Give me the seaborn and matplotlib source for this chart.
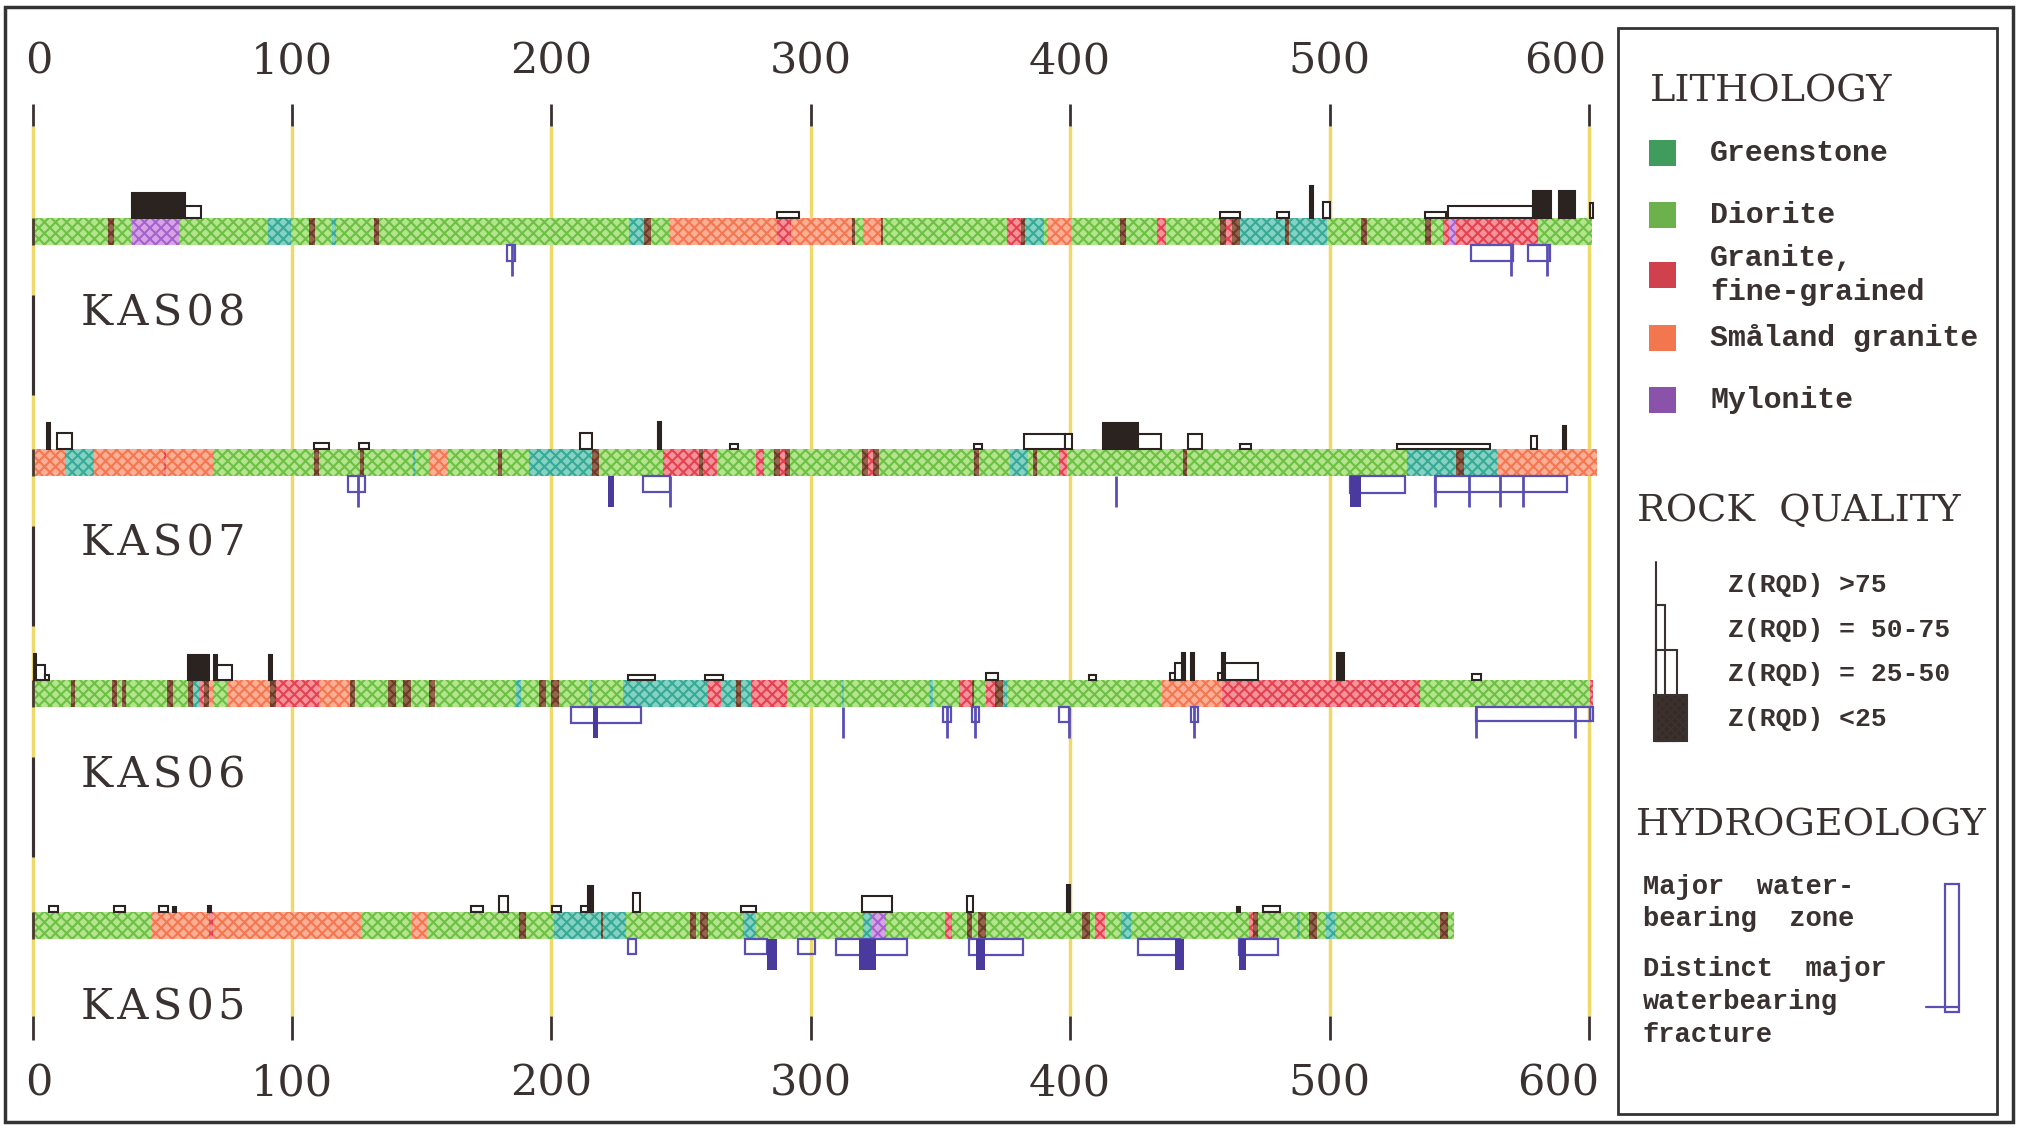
import matplotlib
matplotlib.use("Agg")
import matplotlib.pyplot as plt
from matplotlib.patches import Rectangle
import seaborn as sns

# borehole names and depth scale (m)
holes = ["KAS08", "KAS07", "KAS06", "KAS05"]
depth_ticks = [0, 100, 200, 300, 400, 500, 600]

# lithology: (from m, to m, rock)
# D diorite, G greenstone, F fine-grained granite, S Smaland granite, M mylonite, X thin dark band
kas08_litho = [
    (0, 29, "D"), (29, 31.5, "X"), (31.5, 38.5, "D"), (38.5, 56.6, "M"), (56.6, 90.7, "D"),
    (90.7, 99.6, "G"), (99.6, 106.5, "D"), (106.5, 109, "X"), (109, 115.5, "D"), (115.5, 117, "G"),
    (117, 131.5, "D"), (131.5, 133.5, "X"), (133.5, 229.8, "D"), (229.8, 235.7, "G"), (235.7, 238.6, "X"),
    (238.6, 245.2, "D"), (245.2, 287, "S"), (287, 292.5, "F"), (292.5, 316, "S"), (316, 317, "X"),
    (317, 320, "D"), (320, 327, "S"), (327, 328, "X"), (328, 375.5, "D"), (375.5, 381, "F"),
    (381, 382.5, "X"), (382.5, 390, "G"), (390, 391.4, "D"), (391.4, 400.7, "S"), (400.7, 419.2, "D"),
    (419.2, 421.6, "X"), (421.6, 433.5, "D"), (433.5, 437, "F"), (437, 457.8, "D"), (457.8, 460, "X"),
    (460, 462.5, "F"), (462.5, 465.3, "X"), (465.3, 483, "G"), (483, 484.5, "X"), (484.5, 499, "G"),
    (499, 512, "D"), (512, 514.6, "X"), (514.6, 536.8, "D"), (536.8, 539.2, "X"), (539.2, 543.8, "D"),
    (543.8, 546, "F"), (546, 548.8, "M"), (548.8, 580.2, "F"), (580.2, 601, "D"),
]
kas07_litho = [
    (0, 12.4, "S"), (12.4, 23.7, "G"), (23.7, 50.5, "S"), (50.5, 51.5, "F"), (51.5, 70, "S"),
    (70, 108.5, "D"), (108.5, 110.5, "X"), (110.5, 126.2, "D"), (126.2, 127.6, "X"), (127.6, 146.5, "D"),
    (146.5, 147.5, "G"), (147.5, 152.9, "D"), (152.9, 159.8, "S"), (159.8, 179.5, "D"), (179.5, 181, "X"),
    (181, 191.3, "D"), (191.3, 215.6, "G"), (215.6, 218.3, "X"), (218.3, 243.2, "D"), (243.2, 257, "F"),
    (257, 258.4, "X"), (258.4, 263.7, "F"), (263.7, 279, "D"), (279, 282, "F"), (282, 286, "D"),
    (286, 288, "X"), (288, 290, "F"), (290, 292, "X"), (292, 319.9, "D"), (319.9, 322, "X"),
    (322, 324, "F"), (324, 326.2, "X"), (326.2, 363, "D"), (363, 365, "X"), (365, 376.9, "D"),
    (376.9, 383.8, "G"), (383.8, 385.8, "D"), (385.8, 387.4, "X"), (387.4, 395.8, "D"), (395.8, 398.7, "F"),
    (398.7, 443.5, "D"), (443.5, 445, "X"), (445, 530, "D"), (530, 548.8, "G"), (548.8, 551.7, "X"),
    (551.7, 564.7, "G"), (564.7, 603, "S"),
]
kas06_litho = [
    (0, 14.8, "D"), (14.8, 16.4, "X"), (16.4, 30.6, "D"), (30.6, 32.5, "X"), (32.5, 34.5, "D"),
    (34.5, 36, "X"), (36, 52, "D"), (52, 54, "X"), (54, 60, "D"), (60, 62, "X"), (62, 64, "G"),
    (64, 66, "F"), (66, 68, "X"), (68, 70, "S"), (70, 75, "D"), (75, 91.7, "S"), (91.7, 93.7, "X"),
    (93.7, 110.5, "F"), (110.5, 122.3, "S"), (122.3, 124.3, "X"), (124.3, 137, "D"), (137, 140, "X"),
    (140, 143, "D"), (143, 146, "X"), (146, 153, "D"), (153, 155, "X"), (155, 186.4, "D"),
    (186.4, 188.4, "G"), (188.4, 195.3, "D"), (195.3, 198, "X"), (198, 200, "D"), (200, 203, "X"),
    (203, 214.5, "D"), (214.5, 215.5, "G"), (215.5, 227.8, "D"), (227.8, 260.4, "G"), (260.4, 265.3, "F"),
    (265.3, 271, "G"), (271, 273, "X"), (273, 277, "G"), (277, 291, "F"), (291, 312, "D"),
    (312, 313, "G"), (313, 346, "D"), (346, 347, "G"), (347, 357, "D"), (357, 362, "F"),
    (362, 363, "X"), (363, 367.6, "D"), (367.6, 371, "F"), (371, 374, "X"), (374, 375.5, "G"),
    (375.5, 435.5, "D"), (435.5, 458.4, "S"), (458.4, 534.8, "F"), (534.8, 600.4, "D"), (600.4, 601.5, "F"),
]
kas05_litho = [
    (0, 46, "D"), (46, 68, "S"), (68, 69.6, "F"), (69.6, 127.2, "S"), (127.2, 146, "D"),
    (146, 152.5, "S"), (152.5, 187.4, "D"), (187.4, 190.3, "X"), (190.3, 201, "D"), (201, 219, "G"),
    (219, 219.8, "X"), (219.8, 228.8, "G"), (228.8, 253.4, "D"), (253.4, 255.8, "X"), (255.8, 257.4, "D"),
    (257.4, 260.4, "X"), (260.4, 274, "D"), (274, 279, "G"), (279, 320.3, "D"), (320.3, 323.8, "G"),
    (323.8, 329.2, "M"), (329.2, 351.7, "D"), (351.7, 354.4, "F"), (354.4, 360.4, "D"), (360.4, 362, "X"),
    (362, 364.5, "D"), (364.5, 367.6, "X"), (367.6, 404.7, "D"), (404.7, 407.7, "X"), (407.7, 409.7, "D"),
    (409.7, 413.3, "F"), (413.3, 419.6, "D"), (419.6, 423.6, "G"), (423.6, 468.9, "D"), (468.9, 470.5, "F"),
    (470.5, 472.3, "X"), (472.3, 487.5, "D"), (487.5, 488.5, "G"), (488.5, 492, "D"), (492, 495, "X"),
    (495, 498.7, "D"), (498.7, 502, "G"), (502, 542.4, "D"), (542.4, 545.8, "X"), (545.8, 548, "D"),
]

# rock quality marks above the core: (from, to, bar height, filled = Z(RQD)<25 or thin >75 line)
kas08_rqd = [
    (38.5, 58.6, 25, True), (58.6, 65, 12, False), (287, 295.3, 6, False), (457.8, 465.3, 6, False),
    (479.6, 484.2, 6, False), (492.5, 493.7, 32, True), (497.5, 500, 16, False), (536.8, 544.8, 6, False),
    (545.8, 578.5, 12, False), (578.6, 585.5, 27, True), (588.5, 594.5, 27, True), (600.5, 601.5, 15, False),
]
kas07_rqd = [
    (5.5, 6.7, 26, True), (9.3, 15.2, 16, False), (108.5, 114.4, 6, False), (126, 129.6, 6, False),
    (211, 215.6, 16, False), (241, 242.2, 27, True), (269, 272, 5, False), (363, 366, 5, False),
    (382.3, 398, 15, False), (398, 400.7, 15, False), (412.6, 426, 26, True), (426, 435, 15, False),
    (445.4, 451, 15, False), (465.3, 469.7, 5, False), (526, 561.7, 5, False), (577.6, 580, 13, False),
    (590, 591.2, 23, True),
]
kas06_rqd = [
    (0.5, 1.5, 26, True), (1.5, 5, 15, False), (5, 6.5, 5, False), (60, 68, 25, True), (70, 71, 25, True),
    (71, 77, 15, False), (91.2, 92.4, 25, True), (229.4, 240, 5, False), (259.4, 266.3, 5, False),
    (367.6, 372, 7, False), (407.3, 410, 5, False), (438.5, 440.5, 7, False), (440.5, 443.5, 17, False),
    (443, 444.2, 27, True), (446.4, 447.8, 27, True), (457, 458.4, 7, False), (458.4, 459.6, 27, True),
    (459.6, 472.3, 17, False), (503, 505.4, 27, True), (555, 558.3, 6, False),
]
kas05_rqd = [
    (6.5, 9.9, 6, False), (31.6, 35.5, 6, False), (48.7, 52.3, 6, False), (54.2, 55.2, 5, True),
    (67.7, 69, 6, True), (169, 173.6, 6, False), (180, 183.4, 16, False), (200.2, 203.7, 6, False),
    (211.6, 214, 6, False), (214, 216, 26, True), (231.4, 234, 19, False), (273, 279, 6, False),
    (319.9, 331.2, 16, False), (360.4, 362.4, 16, False), (398.8, 400, 27, True), (464.3, 465.3, 5, True),
    (474.2, 480.8, 6, False),
]

# major water-bearing zones below the core: (from, to, box height)
kas08_zones = [(182.8, 186, 16), (554.7, 570.6, 16), (576.6, 585, 16)]
kas07_zones = [(121.7, 128.2, 16), (235.3, 245.6, 16), (508, 529, 17), (540.8, 591.5, 16)]
kas06_zones = [(207.7, 234.7, 16), (351, 354, 15), (362, 365, 15), (395.8, 399.4, 15),
               (446.4, 449.4, 15), (556.3, 600.4, 14), (600.4, 601.5, 14)]
kas05_zones = [(229.4, 232.7, 15), (274.8, 283, 15), (295, 301.8, 15), (309.9, 337.2, 16),
               (361, 381.8, 16), (426, 442.5, 16), (465, 480.2, 16)]

# distinct water-bearing fractures: (depth, width m; 0 = single fracture line)
kas08_frac = [(185, 0), (570, 0), (584, 0)]
kas07_frac = [(125.6, 0), (222, 2), (245.6, 0), (417.6, 0), (508, 4), (540.8, 0), (553.7, 0),
              (565.7, 0), (574.6, 0)]
kas06_frac = [(216, 2), (312.3, 0), (352.5, 0), (363.5, 0), (399.4, 0), (447.9, 0), (556.3, 0), (594.5, 0)]
kas05_frac = [(283, 4), (318.7, 6.5), (363.6, 3.4), (440.5, 3.3), (465, 2.7)]

litho = [kas08_litho, kas07_litho, kas06_litho, kas05_litho]
rqd = [kas08_rqd, kas07_rqd, kas06_rqd, kas05_rqd]
zones = [kas08_zones, kas07_zones, kas06_zones, kas05_zones]
fracs = [kas08_frac, kas07_frac, kas06_frac, kas05_frac]

rock_fill = {"D": "#b4e48e", "G": "#86d2c2", "F": "#f4939c", "S": "#fbaf95", "M": "#d6a4e6", "X": "#94654c"}
rock_hatch = {"D": "#6cc043", "G": "#36aa96", "F": "#e4424f", "S": "#f47752", "M": "#a562cc", "X": "#6b3b28"}

legend_rocks = ["Greenstone", "Diorite", "Granite,\nfine-grained", "Småland granite", "Mylonite"]
legend_colors = ["#3f9c5c", "#6cb24c", "#d1404d", "#f2774f", "#8b52a9"]
rqd_labels = ["Z(RQD) >75", "Z(RQD) = 50-75", "Z(RQD) = 25-50", "Z(RQD) <25"]

sns.set_theme(style="white")
plt.rcParams["hatch.linewidth"] = 1.5

ink = "#3a3230"
yellow = "#efd96a"
water = "#5a4fb5"

fig = plt.figure(figsize=(20.17, 11.28), dpi=100)
px_per_m = (1589 - 32.5) / 600
ax = fig.add_axes([0, 0, 1, 1])
ax.set_xlim(-32.5 / px_per_m, (2017 - 32.5) / px_per_m)
ax.set_ylim(1128, 0)
ax.axis("off")

serif = "DejaVu Serif"
mono = "Liberation Mono"

# depth grid
ax.vlines(depth_ticks, 126, 1016, color=yellow, lw=2.5, zorder=1)
ax.vlines(depth_ticks, 104, 126, color=ink, lw=2, zorder=2)
ax.vlines(depth_ticks, 1016, 1040, color=ink, lw=2, zorder=2)
for d in depth_ticks:
    shift = 2.5 if d == 0 else (-9 if d == 600 else 0)
    ax.text(d + shift, 62, str(d), ha="center", va="center", fontsize=31, family=serif, color=ink)
    shift = 2.5 if d == 0 else (-12 if d == 600 else 0)
    ax.text(d + shift, 1083, str(d), ha="center", va="center", fontsize=31, family=serif, color=ink)

strip_top = [218, 449, 680, 912]
strip_h = 27
for i, name in enumerate(holes):
    top = strip_top[i]
    bot = top + strip_h
    for a, b, r in litho[i]:
        ax.bar(a, strip_h, width=b - a, bottom=top, align="edge", color=rock_fill[r],
               edgecolor=rock_hatch[r], hatch="xxx", linewidth=0, zorder=3)
    ax.vlines([0], top, bot, color="#4a3a30", lw=2, zorder=4)
    for a, b, h, filled in rqd[i]:
        ax.bar(a, h, width=b - a, bottom=top - h, align="edge",
               facecolor="#2b2320" if filled else "white", edgecolor="#2b2320",
               linewidth=1.5, zorder=4)
    for a, b, h in zones[i]:
        ax.bar(a, h, width=b - a, bottom=bot, align="edge", facecolor="none",
               edgecolor=water, linewidth=1.6, zorder=4)
    for d, w in fracs[i]:
        if w == 0:
            ax.vlines(d, bot, bot + 31, color=water, lw=2, zorder=5)
        else:
            ax.bar(d, 31, width=w, bottom=bot, align="edge", color="#4a3a9e", linewidth=0, zorder=5)
    ax.text(18.7, top + 95, "\u200a".join(name), ha="left", va="center", fontsize=31,
            family=serif, color=ink)
    if i < 3:
        ax.vlines([0], bot + 50, bot + 150, color=ink, lw=2.2, zorder=2)

# frame and legend panel, in pixel units
lg = fig.add_axes([0, 0, 1, 1])
lg.set_xlim(0, 2017)
lg.set_ylim(1128, 0)
lg.axis("off")
lg.patch.set_alpha(0)
lg.add_patch(Rectangle((5, 7), 2008, 1115, fill=False, ec="#333", lw=2.5))
lg.add_patch(Rectangle((1618, 28), 379, 1086, fill=False, ec="#333", lw=2))

lg.text(1650, 91, "LITHOLOGY", fontsize=27.5, family=serif, color=ink, va="center")
item_y = [153, 215, 275, 338, 400]
for y, lab, c in zip(item_y, legend_rocks, legend_colors):
    lg.add_patch(Rectangle((1649, y - 13), 27, 26, color=c, lw=0))
    lg.text(1710, y, lab, fontsize=21.5, family=mono, weight="bold", color=ink, va="center",
            linespacing=1.3)

lg.text(1637, 511, "ROCK  QUALITY", fontsize=27.5, family=serif, color=ink, va="center")
lg.plot([1656, 1656], [562, 741], color=ink, lw=1.5)
lg.add_patch(Rectangle((1656, 605), 9, 136, fill=False, ec=ink, lw=1.5))
lg.add_patch(Rectangle((1656, 650), 21, 91, fill=False, ec=ink, lw=1.5))
lg.add_patch(Rectangle((1654, 695), 33, 46, fc="#3a2a25", ec=ink, lw=1.5, hatch="xxxx"))
for y, lab in zip([585, 630, 674, 719], rqd_labels):
    lg.text(1728, y, lab, fontsize=19, family=mono, weight="bold", color=ink, va="center")

lg.text(1636, 826, "HYDROGEOLOGY", fontsize=27.5, family=serif, color=ink, va="center")
lg.text(1643, 903, "Major  water-\nbearing  zone", fontsize=19.5, family=mono, weight="bold",
        color=ink, va="center", linespacing=1.35)
lg.text(1643, 1002, "Distinct  major\nwaterbearing\nfracture", fontsize=19.5, family=mono,
        weight="bold", color=ink, va="center", linespacing=1.35)
lg.add_patch(Rectangle((1945, 884), 14, 128, fill=False, ec=water, lw=1.6))
lg.plot([1926, 1959], [1007, 1007], color=water, lw=1.6)

fig.savefig("out.png", dpi=100, facecolor="white")
